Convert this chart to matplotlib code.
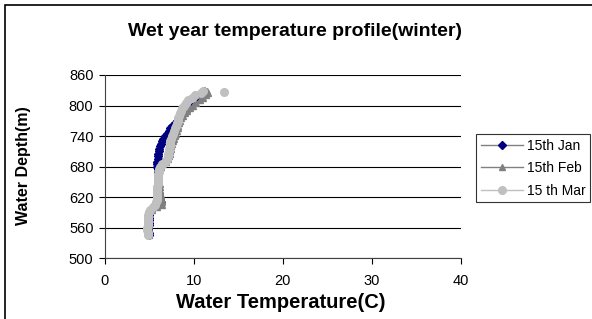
import matplotlib.pyplot as plt
from matplotlib.patches import Rectangle

plotTitle = 'Wet year temperature profile(winter)'
xLabel = 'Water Temperature(C)'
yLabel = 'Water Depth(m)'

depth = [546, 550, 555, 560, 565, 570, 575, 580, 585, 590,
         595, 600, 605, 610, 615, 620, 625, 630, 635, 640,
         645, 650, 655, 660, 665, 670, 675, 680, 685, 690,
         695, 700, 705, 710, 715, 720, 725, 730, 735, 740,
         745, 750, 755, 760, 765, 770, 775, 780, 785, 790,
         795, 800, 805, 810, 815, 820, 825, 828]

tempJan = [5.0, 5.0, 4.9, 4.9, 5.0, 5.0, 5.0, 5.0, 5.0, 5.0,
           5.2, 5.6, 6.0, 6.3, 6.2, 6.1, 6.1, 6.0, 6.0, 6.0,
           6.0, 6.0, 6.0, 6.0, 6.0, 6.0, 6.0, 5.9, 5.9, 5.9,
           6.0, 6.0, 6.0, 6.1, 6.1, 6.2, 6.3, 6.4, 6.6, 6.8,
           7.0, 7.2, 7.4, 7.6, 7.9, 8.1, 8.3, 8.6, 8.9, 9.1,
           9.4, 9.7, 10.0, 10.4, 10.8, 11.1, 11.3, 11.2]

tempFeb = [5.0, 5.0, 5.0, 5.0, 5.0, 5.0, 5.0, 5.0, 5.0, 5.0,
           5.3, 5.9, 6.4, 6.5, 6.4, 6.3, 6.3, 6.2, 6.2, 6.2,
           6.2, 6.1, 6.1, 6.1, 6.1, 6.1, 6.2, 6.3, 6.6, 6.9,
           7.1, 7.2, 7.3, 7.4, 7.5, 7.5, 7.6, 7.7, 7.8, 7.9,
           8.0, 8.1, 8.2, 8.3, 8.4, 8.5, 8.6, 8.8, 9.0, 9.3,
           9.6, 9.9, 10.3, 10.7, 11.1, 11.4, 11.6, 11.5]

tempMar = [4.9, 4.9, 4.8, 4.8, 4.9, 4.9, 4.9, 4.9, 4.9, 5.0,
           5.1, 5.4, 5.7, 5.8, 5.9, 5.9, 5.9, 5.9, 5.9, 5.9,
           6.0, 6.0, 6.0, 6.0, 6.0, 6.1, 6.1, 6.2, 6.5, 6.8,
           7.0, 7.1, 7.1, 7.2, 7.2, 7.3, 7.3, 7.4, 7.5, 7.6,
           7.7, 7.8, 7.9, 8.0, 8.1, 8.2, 8.3, 8.4, 8.5, 8.6,
           8.7, 8.9, 9.1, 9.4, 9.8, 10.2, 10.8, 11.0]

# lone March reading sitting off to the right at the surface
marExtraTemp = [13.4]
marExtraDepth = [827]

xTicks = [0, 10, 20, 30, 40]
yTicks = [500, 560, 620, 680, 740, 800, 860]

plt.rcParams['font.family'] = ['Liberation Sans', 'DejaVu Sans']

fig = plt.figure(figsize=(5.92, 3.19), dpi=100)
ax = fig.add_axes([104.6 / 592, 1 - 258.3 / 319, 356 / 592, 183.3 / 319])

ax.plot(tempJan, depth, color='#808080', linewidth=1.0, marker='D',
        markersize=3.8, markerfacecolor='#000080', markeredgecolor='#000080',
        label='15th Jan', zorder=3)
ax.plot(tempFeb, depth, color='#808080', linewidth=1.0, marker='^',
        markersize=5, markerfacecolor='#808080', markeredgecolor='#808080',
        label='15th Feb', zorder=4)
ax.plot(tempMar, depth, color='#c0c0c0', linewidth=1.0, marker='o',
        markersize=5.5, markerfacecolor='#c0c0c0', markeredgecolor='#c0c0c0',
        label='15 th Mar', zorder=5)
ax.plot(marExtraTemp, marExtraDepth, linestyle='none', marker='o',
        markersize=5.5, color='#c0c0c0', zorder=5)

ax.set(xlim=(0, 40), ylim=(500, 860))
ax.set_xticks(xTicks)
ax.set_yticks(yTicks)
ax.tick_params(labelsize=10.5, length=4, width=0.8, color='black')
ax.tick_params(axis='x', pad=7)
ax.tick_params(axis='y', pad=4)
ax.yaxis.grid(True, color='black', linewidth=0.8)
ax.set_axisbelow(True)
for side in ['top', 'right']:
    ax.spines[side].set_visible(False)
for side in ['left', 'bottom']:
    ax.spines[side].set_color('#404040')

ax.set_xlabel(xLabel, fontsize=14.5, fontweight='bold')
ax.xaxis.set_label_coords((281 - 104.6) / 356, -(303 - 258.3) / 183.3)
ax.xaxis.label.set_va('center')
ax.set_ylabel(yLabel, fontsize=11.5, fontweight='bold')
ax.yaxis.set_label_coords((24 - 104.6) / 356, (258.3 - 166) / 183.3)
ax.yaxis.label.set_va('center')
fig.text(295 / 592, 1 - 31 / 319, plotTitle, fontsize=14, fontweight='bold',
         ha='center', va='center')

leg = ax.legend(loc='upper left', bbox_to_anchor=(476 / 592, 1 - 134 / 319),
                bbox_transform=fig.transFigure, frameon=True, fancybox=False,
                fontsize=10, borderpad=0.35, handlelength=3.0,
                labelspacing=0.6, handletextpad=0.3, borderaxespad=0)
leg.get_frame().set_edgecolor('black')
leg.get_frame().set_linewidth(0.8)

fig.patches.append(Rectangle((5 / 592, -0.1), 1.2, 1 - 5 / 319 + 0.1,
                             transform=fig.transFigure, fill=False,
                             edgecolor='black', linewidth=1.2))

plt.savefig('out.png', dpi=100)
